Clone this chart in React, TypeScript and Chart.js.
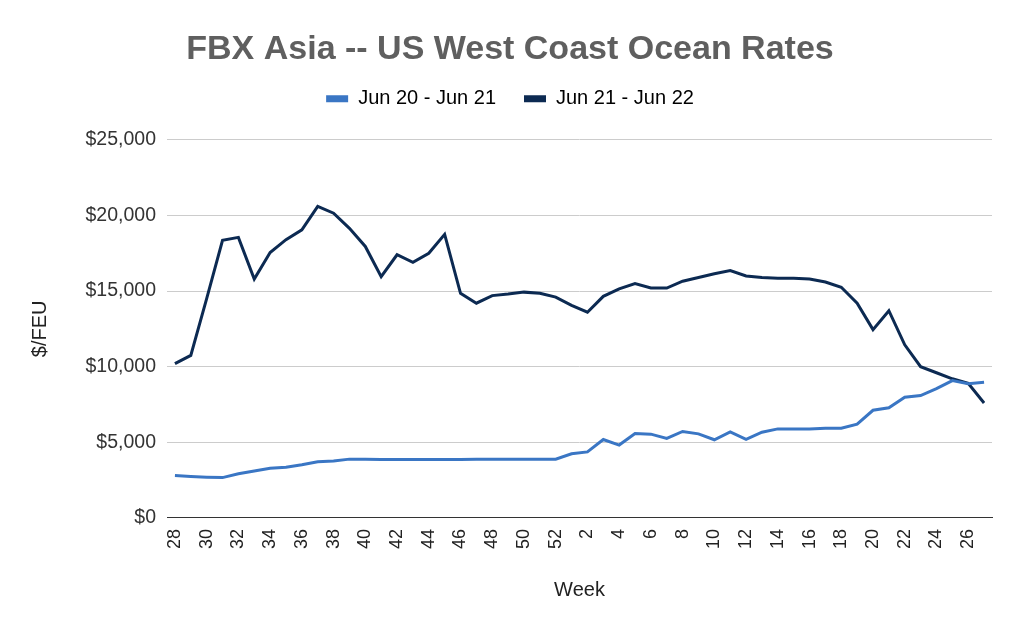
import React, { useEffect, useRef } from "react";
import { Chart, registerables } from "chart.js";

Chart.register(...registerables);

const weeks: string[] = [
  "28", "29", "30", "31", "32", "33", "34", "35", "36", "37", "38", "39", "40",
  "41", "42", "43", "44", "45", "46", "47", "48", "49", "50", "51", "52",
  "1", "2", "3", "4", "5", "6", "7", "8", "9", "10", "11", "12", "13", "14",
  "15", "16", "17", "18", "19", "20", "21", "22", "23", "24", "25", "26", "27",
];

const jun20Jun21: number[] = [
  2800, 2750, 2700, 2670, 2920, 3100, 3280, 3360, 3520, 3720, 3760, 3890, 3890,
  3870, 3860, 3860, 3860, 3870, 3860, 3880, 3880, 3880, 3880, 3890, 3880,
  4240, 4370, 5190, 4820, 5580, 5540, 5260, 5720, 5560, 5170, 5690, 5190, 5670,
  5890, 5890, 5890, 5930, 5930, 6200, 7120, 7280, 7980, 8090, 8550, 9080, 8880, 8970,
];

const jun21Jun22: number[] = [
  10200, 10750, 14500, 18350, 18550, 15800, 17550, 18400, 19050, 20600, 20150,
  19150, 17950, 15950, 17400, 16900, 17500, 18750, 14850, 14200, 14700, 14800,
  14930, 14850, 14600, 14050, 13600, 14650, 15150, 15500, 15200, 15200, 15650,
  15900, 16150, 16350, 16000, 15900, 15850, 15850, 15800, 15600, 15250, 14200,
  12450, 13700, 11450, 10000, 9600, 9200, 8900, 7600,
];

const seriesNames: string[] = ["Jun 20 - Jun 21", "Jun 21 - Jun 22"];
const seriesColors: string[] = ["#3a76c4", "#0c2a52"];
const yTicks: number[] = [0, 5000, 10000, 15000, 20000, 25000];

const FONT = "'Liberation Sans', Arial, sans-serif";

export default function App() {
  const ref = useRef<HTMLCanvasElement | null>(null);

  useEffect(() => {
    if (!ref.current) return;
    const legendMargin = {
      id: "legendMargin",
      beforeInit(chart: any) {
        const orig = chart.legend.fit;
        chart.legend.fit = function () {
          orig.bind(this)();
          this.height += 21;
        };
      },
    };
    const chart = new Chart(ref.current, {
      type: "line",
      data: {
        labels: weeks,
        datasets: [
          {
            label: seriesNames[0],
            data: jun20Jun21,
            borderColor: seriesColors[0],
            backgroundColor: seriesColors[0],
            borderWidth: 3,
            pointRadius: 0,
            tension: 0,
          },
          {
            label: seriesNames[1],
            data: jun21Jun22,
            borderColor: seriesColors[1],
            backgroundColor: seriesColors[1],
            borderWidth: 3,
            pointRadius: 0,
            tension: 0,
          },
        ],
      },
      plugins: [legendMargin],
      options: {
        animation: false,
        responsive: false,
        layout: { padding: { top: 19, right: 32, left: 28, bottom: 31 } },
        plugins: {
          title: {
            display: true,
            text: "FBX Asia -- US West Coast Ocean Rates",
            color: "#5f5f5f",
            font: { family: FONT, size: 34, weight: "bold" },
            padding: { top: 10, bottom: -9 },
          },
          legend: {
            display: true,
            labels: {
              color: "#222",
              font: { family: FONT, size: 20 },
              boxWidth: 22,
              boxHeight: 7,
              padding: 28,
              generateLabels(chart: any) {
                return chart.data.datasets.map((d: any, i: number) => ({
                  text: d.label,
                  fillStyle: d.borderColor,
                  strokeStyle: d.borderColor,
                  lineWidth: 0,
                  datasetIndex: i,
                  hidden: false,
                }));
              },
            },
          },
          tooltip: { enabled: false },
        },
        scales: {
          x: {
            offset: true,
            grid: { display: false, drawTicks: false },
            border: { display: true, color: "#333", width: 1 },
            ticks: {
              autoSkip: false,
              maxRotation: 90,
              minRotation: 90,
              padding: 11,
              color: "#222",
              font: { family: FONT, size: 18 },
              callback: (_v: any, i: number) => (i % 2 === 0 ? weeks[i] : ""),
            },
            title: {
              display: true,
              text: "Week",
              color: "#222",
              font: { family: FONT, size: 20 },
              padding: { top: 18, bottom: 0 },
            },
          },
          y: {
            min: 0,
            max: 25000,
            afterBuildTicks: (scale: any) => {
              scale.ticks = yTicks.map((v) => ({ value: v }));
            },
            afterFit: (scale: any) => {
              scale.width = 139;
            },
            grid: { color: "#cccccc", drawTicks: false },
            border: { display: false },
            ticks: {
              padding: 11,
              color: "#333",
              font: { family: FONT, size: 19.5 },
              callback: (v: any) => "$" + Number(v).toLocaleString("en-US"),
            },
            title: {
              display: true,
              text: "$/FEU",
              color: "#222",
              font: { family: FONT, size: 20 },
              padding: { top: 0, bottom: 0 },
            },
          },
        },
      },
    });
    return () => chart.destroy();
  }, []);

  return (
    <div style={{ position: "absolute", left: 0, top: 0, width: 1024, height: 633, background: "#fff" }}>
      <canvas ref={ref} width={1024} height={633} style={{ display: "block" }} />
    </div>
  );
}
